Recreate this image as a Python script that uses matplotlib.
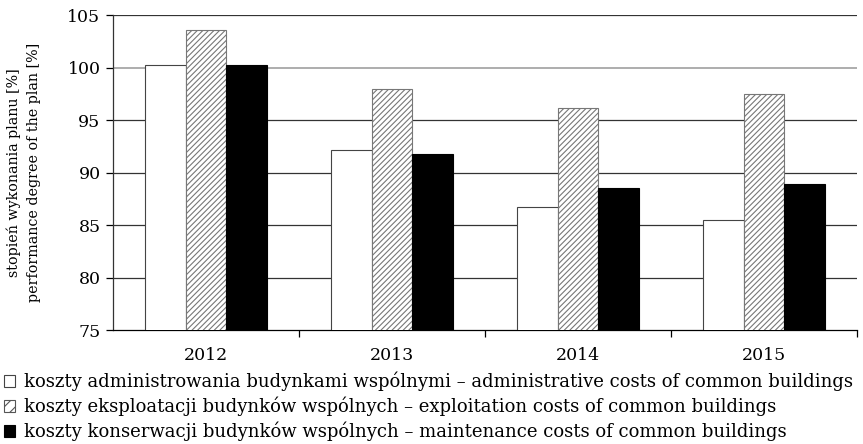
import matplotlib
matplotlib.use("Agg")
import matplotlib.pyplot as plt
from matplotlib.patches import Patch
import numpy as np

years = ["2012", "2013", "2014", "2015"]
admin = [100.2, 92.1, 86.7, 85.5]
exploit = [103.6, 98.0, 96.1, 97.5]
maint = [100.2, 91.8, 88.5, 88.9]
labels = [
    "koszty administrowania budynkami wspólnymi – administrative costs of common buildings",
    "koszty eksploatacji budynków wspólnych – exploitation costs of common buildings",
    "koszty konserwacji budynków wspólnych – maintenance costs of common buildings",
]
ylabel = "stopień wykonania planu [%]\nperformance degree of the plan [%]"

plt.rcParams['font.family'] = ['DejaVu Serif']
plt.rcParams['hatch.linewidth'] = 0.8
plt.rcParams['hatch.color'] = '#222222'

fig = plt.figure(figsize=(8.63, 4.44), dpi=100)
ax = fig.add_axes([113/863, 1-330/444, (857-113)/863, (330-15)/444])

x = np.arange(len(years))
w = 0.22
ax.bar(x - w, admin, w, color='white', edgecolor='#444444', linewidth=0.8, zorder=3)
ax.bar(x, exploit, w, color='white', edgecolor='#777777', hatch='//////', linewidth=0.8, zorder=3)
ax.bar(x + w, maint, w, color='black', edgecolor='black', linewidth=0.8, zorder=3)

ax.set_ylim(75, 105)
ax.set_xlim(-0.5, 3.5)
ax.set_yticks([75, 80, 85, 90, 95, 100, 105])
for v in [80, 85, 90, 95, 105]:
    ax.axhline(v, color='#333333', linewidth=0.9, zorder=1)
ax.axhline(100, color='#a0a0a0', linewidth=1.2, zorder=1)

ax.set_xticks(x)
ax.set_xticklabels(years, fontsize=12.5)
ax.set_xticks(np.arange(0.5, 4.0, 1.0), minor=True)
ax.tick_params(axis='x', which='major', length=0, pad=12)
ax.tick_params(axis='x', which='minor', length=5, width=0.9, direction='out')
ax.tick_params(axis='y', length=5, width=0.9, direction='out', labelsize=12.5, pad=4)
for s in ['top', 'right']:
    ax.spines[s].set_visible(False)
ax.spines['left'].set_color('#333333')
ax.spines['bottom'].set_color('black')
ax.spines['left'].set_linewidth(0.9)
ax.spines['bottom'].set_linewidth(0.9)

ax.set_ylabel(ylabel, fontsize=10.3, linespacing=1.5, labelpad=19)

handles = [
    Patch(facecolor='white', edgecolor='#444444', linewidth=0.8),
    Patch(facecolor='white', edgecolor='#555555', hatch='///', linewidth=0.8),
    Patch(facecolor='black', edgecolor='black', linewidth=0.8),
]
fig.legend(handles, labels, loc='lower left', bbox_to_anchor=(0.0, -0.002),
           frameon=False, fontsize=13.0, handlelength=0.62, handleheight=0.62,
           handletextpad=0.5, labelspacing=0.3, borderaxespad=0.1, borderpad=0.1)

fig.savefig("out.png", dpi=100)
